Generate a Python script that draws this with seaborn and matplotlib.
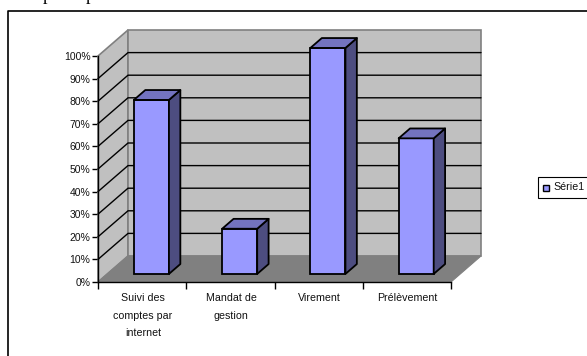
import matplotlib
matplotlib.use("Agg")
import matplotlib.pyplot as plt
import seaborn as sns
import pandas as pd
from matplotlib.patches import Polygon, Rectangle
from matplotlib.lines import Line2D
from matplotlib.transforms import Affine2D, IdentityTransform

categories = ["Suivi des\ncomptes par\ninternet", "Mandat de\ngestion", "Virement", "Prélèvement"]
values = [77, 20, 100, 60]
y_ticks = list(range(0, 101, 10))
series_name = "Série1"

FACE, SIDE, TOP = "#9999FF", "#4D4D80", "#7373BF"
WALL, FLOOR = "#C0C0C0", "#808080"
W, H = 587, 356
LEFT, RIGHT, BASE, PEAK = 98, 451, 282, 56
DX, DY = 30, 26          # oblique depth of the chart box, in pixels
BAR_NEAR, BAR_FAR = 0.31, 0.69
PIXELS = IdentityTransform()

sns.set_theme(style="white", rc={"font.family": ["Liberation Sans", "DejaVu Sans"]})
fig = plt.figure(figsize=(W / 100, H / 100), dpi=100, facecolor="white")
ax = fig.add_axes([LEFT / W, 1 - BASE / H, (RIGHT - LEFT) / W, (BASE - PEAK) / H])
ax.patch.set_visible(False)

frame = pd.DataFrame({"category": categories, "value": values})
sns.barplot(data=frame, x="category", y="value", ax=ax, color=FACE, saturation=1,
            width=0.397, edgecolor="black", linewidth=1.3, zorder=5)
bars = [p for p in ax.patches if isinstance(p, Rectangle)]
ax.set_xlim(-0.5, 3.5)
ax.set_ylim(0, 100)
ax.set_xlabel("")
ax.set_ylabel("")


def poly(points, d0, d1, **style):
    # points are (x, y) in data units; the first two sit at depth d0, the others at d1
    px = []
    for (x, y), d in zip(points, [d0, d0, d1, d1]):
        sx, sy = ax.transData.transform((x, y))
        px.append((sx + d * DX, sy + d * DY))
    ax.add_patch(Polygon(px, closed=True, transform=PIXELS, clip_on=False, **style))


# Walls and floor of the chart box
x0, x1 = -0.5, 3.5
poly([(x0, 0), (x0, 100), (x0, 100), (x0, 0)], 0, 1, fc=WALL, ec=FLOOR, lw=1.2, zorder=1)
poly([(x0, 100), (x1, 100), (x1, 0), (x0, 0)], 1, 1, fc=WALL, ec=FLOOR, lw=1.2, zorder=1)
poly([(x0, 0), (x1, 0), (x1, 0), (x0, 0)], 0, 1, fc=FLOOR, ec=FLOOR, lw=0.8, zorder=2)

# Gridlines run along the side wall and across the back wall
for v in y_ticks[1:-1]:
    xa, ya = ax.transData.transform((x0, v))
    xb, yb = ax.transData.transform((x1, v))
    ax.add_line(Line2D([xa, xa + DX, xb + DX], [ya, ya + DY, yb + DY], transform=PIXELS,
                       color="black", lw=1.0, clip_on=False, zorder=3))

# Shift each bar into the box and give it a side and a top
for bar in bars:
    bar.set_transform(ax.transData + Affine2D().translate(BAR_NEAR * DX, BAR_NEAR * DY))
    bar.set_clip_on(False)
    bx0, bx1, top = bar.get_x(), bar.get_x() + bar.get_width(), bar.get_height()
    style = dict(ec="black", lw=1.3, zorder=5, joinstyle="round")
    poly([(bx1, 0), (bx1, top), (bx1, top), (bx1, 0)], BAR_NEAR, BAR_FAR, fc=SIDE, **style)
    poly([(bx0, top), (bx1, top), (bx1, top), (bx0, top)], BAR_NEAR, BAR_FAR, fc=TOP, **style)

# Axes lines and ticks
sns.despine(ax=ax, top=True, right=True)
ax.spines["left"].set(color="black", linewidth=1.0, zorder=6)
ax.spines["bottom"].set(color="black", linewidth=1.0, zorder=6)
ax.set_yticks(y_ticks, [f"{v}%" for v in y_ticks])
ax.set_xticks([-0.5, 0.5, 1.5, 2.5, 3.5], [""] * 5)
ax.tick_params(axis="both", which="major", left=True, bottom=True, length=4, width=1.0,
               color="black", labelsize=7.5, labelcolor="#111111", pad=1.5)
ax.tick_params(axis="x", length=5)
for i, label in enumerate(categories):
    ax.annotate(label, (i, 0), xytext=(0.7, -11), textcoords="offset pixels",
                ha="center", va="top", fontsize=7.7, color="#111111", linespacing=1.95,
                annotation_clip=False)

# Chart frame, open at the right and at the bottom
fig.add_artist(Line2D([7.5 / W, 7.5 / W, 1], [0, 1 - 10.5 / H, 1 - 10.5 / H],
                      transform=fig.transFigure, color="black", lw=1.2))

# Descenders of the line of text cut off above the frame
for x_px in (47, 90):
    fig.text(x_px / W, 1 + 0.5 / H, "p", family="Liberation Serif", fontsize=13,
             color="black", ha="center", va="baseline")

# Legend box
fig.add_artist(Rectangle((537.5 / W, 1 - 198 / H), 50 / W, 21 / H, transform=fig.transFigure,
                         fc="white", ec="black", lw=0.8))
fig.add_artist(Rectangle((543 / W, 1 - 191 / H), 6 / W, 6 / H, transform=fig.transFigure,
                         fc=FACE, ec="black", lw=1.0))
fig.text(553 / W, 1 - 187.5 / H, series_name, fontsize=7.7, color="#111111", ha="left", va="center")

fig.savefig("out.png", dpi=100)
